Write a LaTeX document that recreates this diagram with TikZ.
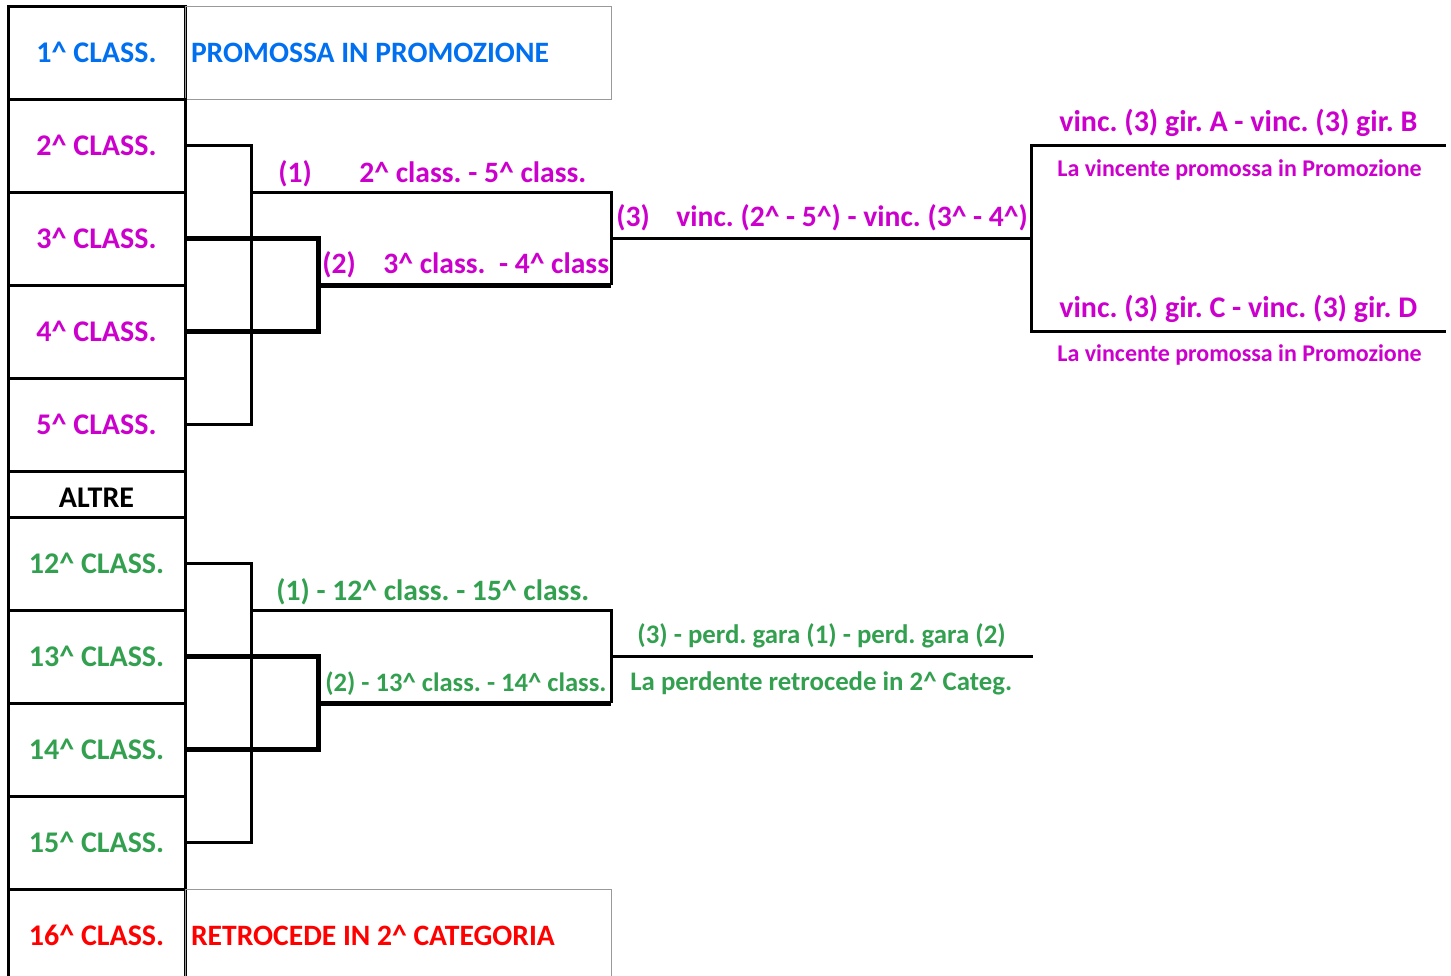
\documentclass[tikz,border=0pt]{standalone}
\usepackage{fontspec}
\setmainfont{Carlito}
\usetikzlibrary{positioning}
\newcommand{\hatc}{\textasciicircum}
\frenchspacing
\definecolor{promoBlue}{RGB}{0,112,240}
\definecolor{playMag}{RGB}{204,0,204}
\definecolor{playGreen}{RGB}{51,160,80}
\definecolor{dropRed}{RGB}{255,0,0}
\tikzset{
  classbox/.style={rectangle,draw,line width=1.5pt,outer sep=0pt,
                   minimum width=88.5pt,minimum height=46.5pt,inner sep=0pt,
                   font=\bfseries\fontsize{15}{17}\selectfont},
  notebox/.style={rectangle,draw=gray!80,line width=0.5pt,outer sep=0pt,
                  minimum width=213pt,minimum height=46.5pt,
                  text width=207pt,align=flush left,inner xsep=3pt,
                  font=\bfseries\fontsize{14.8}{17}\selectfont},
  link/.style={line width=1.5pt},
  thicklink/.style={line width=2.5pt},
  matchlabel/.style={anchor=base west,inner sep=0pt,
                     font=\bfseries\fontsize{14.8}{17}\selectfont},
  outlabel/.style={anchor=base west,inner sep=0pt,
                   font=\bfseries\fontsize{13.4}{16}\selectfont},
  notelabel/.style={anchor=base west,inner sep=0pt,
                    font=\bfseries\fontsize{12}{14}\selectfont},
}

\begin{document}
\begin{tikzpicture}[x=0.5pt,y=-0.5pt]
  \useasboundingbox (0,0) rectangle (1451,975);
  \clip (0,0) rectangle (1451,975);

  % classifica
  \node[classbox,text=promoBlue] (class1) at (96.5,52.5) {1\hatc{} CLASS.};
  \node[notebox,text=promoBlue,right=0pt of class1] (promoBox)
      {PROMOSSA IN PROMOZIONE};
  \node[classbox,text=playMag,below=0pt of class1] (class2) {2\hatc{} CLASS.};
  \node[classbox,text=playMag,below=0pt of class2] (class3) {3\hatc{} CLASS.};
  \node[classbox,text=playMag,below=0pt of class3] (class4) {4\hatc{} CLASS.};
  \node[classbox,text=playMag,below=0pt of class4] (class5) {5\hatc{} CLASS.};
  \node[classbox,minimum height=23pt,text height=13pt,text depth=0pt,
        below=0pt of class5] (altre) {ALTRE};
  \node[classbox,text=playGreen,below=0pt of altre] (class12) {12\hatc{} CLASS.};
  \node[classbox,text=playGreen,below=0pt of class12] (class13) {13\hatc{} CLASS.};
  \node[classbox,text=playGreen,below=0pt of class13] (class14) {14\hatc{} CLASS.};
  \node[classbox,text=playGreen,below=0pt of class14] (class15) {15\hatc{} CLASS.};
  \node[classbox,text=dropRed,below=0pt of class15] (class16) {16\hatc{} CLASS.};
  \node[notebox,text=dropRed,right=0pt of class16] (dropBox)
      {RETROCEDE IN 2\hatc{} CATEGORIA};

  % play-off
  \coordinate (join1) at (251,284);
  \coordinate (join2) at (318,331);
  \coordinate (semi1) at (611,238);
  \coordinate (final1) at (1031,238);
  \coordinate (finalA) at (1446,145);
  \coordinate (finalC) at (1446,331);

  \draw[link] (class2.east) -| (join1) |- (class5.east);
  \draw[thicklink] (class3.east) -| (join2) |- (class4.east);
  \draw[link] (join1 |- class2.south) -| (semi1 |- class3.south);
  \draw[thicklink] (join2 |- class3.south) -- (semi1 |- class3.south);
  \draw[link] (semi1) -- (final1);
  \draw[link] (finalA) -| (final1) |- (finalC);

  \node[matchlabel,text=playMag] (match1Num) at (278,182) {(1)};
  \node[matchlabel,text=playMag] (match1Label) at (359,182)
      {2\hatc{} class. - 5\hatc{} class.};
  \node[matchlabel,text=playMag] (match2Num) at (322,273) {(2)};
  \node[matchlabel,text=playMag] (match2Label) at (383,273)
      {3\hatc{} class.\ \ - 4\hatc{} class};
  \node[matchlabel,text=playMag] (match3Num) at (616,226) {(3)};
  \node[matchlabel,text=playMag] (match3Label) at (676,226)
      {vinc. (2\hatc{} - 5\hatc{}) - vinc. (3\hatc{} - 4\hatc{})};
  \node[matchlabel,font=\bfseries\fontsize{15}{17}\selectfont,text=playMag]
      (finalALabel) at (1059,131) {vinc. (3) gir. A - vinc. (3) gir. B};
  \node[notelabel,text=playMag] (finalANote) at (1057,176)
      {La vincente promossa in Promozione};
  \node[matchlabel,font=\bfseries\fontsize{15}{17}\selectfont,text=playMag]
      (finalCLabel) at (1059,317) {vinc. (3) gir. C - vinc. (3) gir. D};
  \node[notelabel,text=playMag] (finalCNote) at (1057,361)
      {La vincente promossa in Promozione};

  % play-out
  \coordinate (join3) at (251,702);
  \coordinate (join4) at (318,749);
  \coordinate (semi2) at (611,656);
  \coordinate (lastEnd) at (1033,656);

  \draw[link] (class12.east) -| (join3) |- (class15.east);
  \draw[thicklink] (class13.east) -| (join4) |- (class14.east);
  \draw[link] (join3 |- class12.south) -| (semi2 |- class13.south);
  \draw[thicklink] (join4 |- class13.south) -- (semi2 |- class13.south);
  \draw[link] (semi2) -- (lastEnd);

  \node[matchlabel,text=playGreen] (out1Label) at (276,600)
      {(1) - 12\hatc{} class. - 15\hatc{} class.};
  \node[matchlabel,font=\bfseries\fontsize{13.3}{16}\selectfont,text=playGreen]
      (out2Label) at (325,691) {(2) - 13\hatc{} class. - 14\hatc{} class.};
  \node[outlabel,text=playGreen] (out3Label) at (637,643)
      {(3) - perd. gara (1) - perd. gara (2)};
  \node[outlabel,text=playGreen] (out3Note) at (630,690)
      {La perdente retrocede in 2\hatc{} Categ.};
\end{tikzpicture}
\end{document}
